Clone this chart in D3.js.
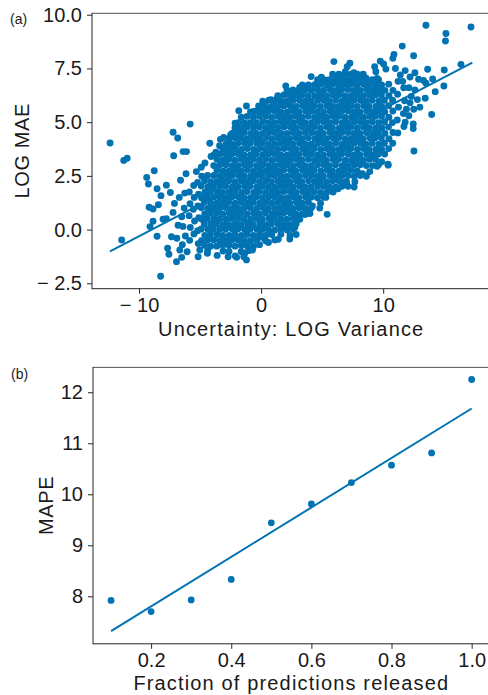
<!DOCTYPE html>
<html><head><meta charset="utf-8">
<script src="https://cdn.jsdelivr.net/npm/d3@7"></script>
<style>
body{margin:0;background:#fff}
svg{display:block}
text{font-family:"Liberation Sans",Arial,Helvetica,sans-serif;fill:#1a1a1a}
</style>
</head><body>
<svg id="chart" width="488" height="695"></svg>
<script>
// ---------- Panel (a) data: Uncertainty (LOG Variance) vs LOG MAE ----------
// outlying / sparse points
const scatterEdge = [
[-12.37,4.03],[-11.25,3.22],[-10.97,3.32],[-11.42,-0.48],[-9.37,2.43],[-8.75,2.74],[-9.23,2.12],[-8.52,1.9],[-8.2,1.58],[-7.76,2.07],[-7.43,1.73],[-9.17,1.04],[-8.85,0.96],[-8.41,1.16],[-8.85,0.39],[-9.1,0.14],[-8.03,0.48],[-7.76,0.51],[-8.52,-0.31],[-7.34,-0.33],[-8.23,-2.17],[-7.66,-0.87],[-7.55,-1.15],[-6.93,-1.49],[-6.5,-1.29],[-6.66,-0.95],[-7.1,1.22],[-7.21,0.8],[-7.21,4.53],[-6.83,4.26],[-7.16,3.44],[-6.39,3.63],[-6.11,3.63],[-5.81,4.91],[-4.2,4.02],[-3.33,4.2],[-3.06,4.29],[-1.83,5.53],[-1.2,5.75],[-2.13,4.95],[-2.04,4.71],
[-6.8,0.2],[-6.5,0.6],[-6.3,1.0],[-6.7,1.5],[-6.2,-0.3],[-6.4,0.15],[-6.9,-0.4],[-6.25,1.7],[-6.6,2.3],[-6.15,2.6],[-6.45,-0.7],
[-5.85,-0.5],[-5.8,0.1],[-5.9,0.65],[-5.82,1.2],[-5.88,1.75],[-5.5,-0.2],[-5.45,0.4],[-5.55,0.95],[-5.48,1.5],[-5.52,2.05],[-5.15,-0.65],[-5.2,-0.05],[-5.1,0.55],[-5.18,1.1],[-5.12,1.65],[-5.2,2.2],
[11.2,4.5],[11.15,5.1],[11.25,5.7],[11.18,6.3],[11.22,6.9],[11.7,4.8],[11.65,5.4],[11.75,6.0],[11.68,6.6],
[-4.6,3.1],[-4.1,3.4],[-3.7,3.6],[-3.4,3.9],[-2.8,4.0],[-2.5,4.4],[-4.9,2.9],[-5.3,2.7],
[-0.6,5.5],[-0.2,5.75],[0.3,5.9],[0.8,6.05],[1.3,6.1],[1.6,6.0],[2.4,6.3],[2.02,6.68],[3.16,6.62],[3.6,6.55],[4.1,7.12],[4.94,7.09],[4.6,6.85],[5.96,7.82],[6.33,7.12],[5.4,6.95],[7.27,7.74],[7.05,7.58],[6.9,7.35],[7.6,7.3],[8.2,7.2],[8.6,7.05],[9.3,7.58],[9.4,7.35],[9.5,7.04],[9.76,7.84],[10.03,7.71],[10.22,7.47],[10.88,8.15],[10.79,7.97],[11.56,8.54],[12.49,8.09],[13.5,9.51],[15.14,9.13],[15.1,8.78],[17.19,9.43],[13.64,7.46],[15.0,7.43],[16.37,7.69],[14.05,7.01],[13.3,6.94],[13.5,6.81],[14.97,6.68],[14.26,6.42],[13.44,6.11],[13.97,5.36],[12.46,4.92],[12.46,4.7],[12.52,3.66],[10.39,3.04],[9.87,3.16],[10.41,3.0],
[11.0,7.5],[11.4,7.2],[11.8,7.4],[12.2,7.1],[12.6,7.3],[12.9,7.0],[12.1,6.6],[12.6,6.5],[11.6,6.9],[12.3,6.2],[12.8,6.05],[11.9,5.6],[12.2,5.9],[13.0,5.7],[12.1,5.3],[12.5,5.6],[11.8,5.0],
[2.35,-0.44],[3.17,0.48],[2.76,0.1],[3.6,0.7],[4.2,1.1],[4.0,0.75],[4.8,1.0],[5.41,0.71],[5.3,1.5],[5.9,1.75],[6.3,1.9],[5.5,2.0],[7.68,2.23],[7.0,2.23],[8.3,2.6],[8.9,2.7],[9.5,2.95],[0.03,-0.36],[-1.42,-1.26],[-1.34,-1.1],[-2.7,-1.26],[-2.0,-1.29],[-1.2,-1.41],[-5.16,-1.26],[-5.02,-0.95],[-6.06,-1.03],[0.6,-0.6],[1.4,-0.45],[-0.7,-0.95],[-3.6,-1.2],[-4.4,-1.1],[-0.13,-0.7],[1.62,-0.22],[-1.02,-0.98],
[-2.63,-1.02],[-2.12,-1.23],[-1.63,-1.02],[-3.12,-1.0],[-4.38,-0.98],[-0.62,-0.77],[0.37,-0.52],[1.12,-0.48],
[2.12,-0.02],[2.37,-0.27],[2.62,0.02],[2.87,-0.23],[3.12,0.52],[3.37,0.73],[3.88,0.77],[4.12,1.02],[4.87,1.23],[5.12,1.52],[5.37,1.73],[5.87,1.77],[6.12,1.98],[6.62,2.02],[7.12,2.02],[7.62,1.98],[8.12,2.52],[8.62,2.48],[9.12,2.98],[9.62,3.02]
];
// dense central cloud
const scatterCore = [
[-4.88,-0.52],[-4.9,0.03],[-4.86,0.48],[-4.89,1.02],[-4.87,1.47],[-4.9,2.03],[-4.86,2.48],[-4.63,-0.73],[-4.61,-0.27],[-4.65,0.26],[-4.62,0.73],[-4.64,1.27],[-4.6,1.74],[-4.63,2.27],[-4.38,-0.48],[-4.36,0.02],[-4.4,0.52],[-4.37,0.98],[-4.39,1.52],[-4.36,1.98],[-4.38,2.52],[-4.13,-0.77],[-4.15,-0.23],[-4.11,0.27],[-4.14,0.77],[-4.12,1.23],[-4.15,1.77],[-4.13,2.23],
[-3.88,-0.48],[-3.9,0.02],[-3.86,0.52],[-3.89,0.98],[-3.87,1.52],[-3.9,1.98],[-3.86,2.52],[-3.88,2.98],[-3.63,-0.77],[-3.61,-0.23],[-3.65,0.27],[-3.62,0.77],[-3.64,1.23],[-3.6,1.77],[-3.63,2.23],[-3.62,2.77],[-3.38,-0.52],[-3.36,0.03],[-3.4,0.48],[-3.37,1.02],[-3.39,1.48],[-3.36,2.02],[-3.38,2.48],[-3.37,3.02],[-3.13,-0.73],[-3.15,-0.27],[-3.11,0.23],[-3.14,0.73],[-3.12,1.27],[-3.15,1.73],[-3.13,2.27],[-3.12,2.73],
[-2.88,-0.52],[-2.9,0.02],[-2.86,0.48],[-2.89,1.03],[-2.87,1.48],[-2.9,2.02],[-2.86,2.48],[-2.88,3.02],[-2.87,3.48],[-2.63,-0.73],[-2.61,-0.27],[-2.65,0.23],[-2.62,0.77],[-2.64,1.27],[-2.6,1.73],[-2.63,2.27],[-2.62,2.73],[-2.64,3.27],[-2.38,-0.48],[-2.36,0.03],[-2.4,0.52],[-2.37,0.98],[-2.39,1.52],[-2.36,1.98],[-2.38,2.52],[-2.37,2.98],[-2.39,3.52],[-2.13,-0.77],[-2.15,-0.23],[-2.11,0.27],[-2.14,0.73],[-2.12,1.23],[-2.15,1.77],[-2.13,2.23],[-2.12,2.77],[-2.14,3.23],[-2.12,3.77],
[-1.88,-0.48],[-1.9,0.03],[-1.86,0.52],[-1.89,0.98],[-1.87,1.52],[-1.9,1.98],[-1.86,2.52],[-1.88,2.98],[-1.87,3.52],[-1.89,4.02],[-1.63,-0.73],[-1.61,-0.27],[-1.65,0.23],[-1.62,0.77],[-1.64,1.27],[-1.6,1.73],[-1.63,2.27],[-1.62,2.73],[-1.64,3.27],[-1.61,3.73],[-1.63,4.27],[-1.38,-0.52],[-1.36,0.02],[-1.4,0.48],[-1.37,1.02],[-1.39,1.48],[-1.36,2.02],[-1.38,2.48],[-1.37,3.02],[-1.39,3.48],[-1.36,4.02],[-1.13,-0.77],[-1.15,-0.23],[-1.11,0.27],[-1.14,0.73],[-1.12,1.23],[-1.15,1.77],[-1.13,2.23],[-1.12,2.77],[-1.14,3.23],[-1.12,3.77],[-1.14,4.23],
[-0.88,-0.52],[-0.9,0.02],[-0.86,0.48],[-0.89,1.03],[-0.87,1.48],[-0.9,2.02],[-0.86,2.48],[-0.88,3.02],[-0.87,3.48],[-0.89,4.02],[-0.86,4.48],[-0.63,-0.27],[-0.65,0.23],[-0.62,0.77],[-0.64,1.27],[-0.6,1.73],[-0.63,2.27],[-0.62,2.73],[-0.64,3.27],[-0.61,3.73],[-0.63,4.27],[-0.62,4.73],[-0.38,-0.48],[-0.36,0.03],[-0.4,0.52],[-0.37,0.98],[-0.39,1.52],[-0.36,1.98],[-0.38,2.52],[-0.37,2.98],[-0.39,3.52],[-0.36,4.02],[-0.38,4.48],[-0.13,-0.23],[-0.11,0.27],[-0.14,0.73],[-0.12,1.23],[-0.15,1.77],[-0.13,2.23],[-0.12,2.77],[-0.14,3.23],[-0.12,3.77],[-0.14,4.23],[-0.13,4.77],
[0.12,0.02],[0.1,0.48],[0.14,1.03],[0.11,1.48],[0.13,2.02],[0.1,2.48],[0.14,3.02],[0.12,3.48],[0.13,4.02],[0.11,4.48],[0.14,5.02],[0.37,-0.27],[0.39,0.23],[0.35,0.77],[0.38,1.27],[0.36,1.73],[0.4,2.27],[0.37,2.73],[0.38,3.27],[0.36,3.73],[0.39,4.27],[0.37,4.73],[0.38,5.27],[0.62,-0.02],[0.64,0.52],[0.6,0.98],[0.63,1.52],[0.61,1.98],[0.64,2.52],[0.62,2.98],[0.63,3.52],[0.61,3.98],[0.64,4.52],[0.62,4.98],[0.87,-0.23],[0.85,0.27],[0.89,0.73],[0.86,1.23],[0.88,1.77],[0.85,2.23],[0.87,2.77],[0.88,3.23],[0.86,3.77],[0.88,4.23],[0.86,4.77],[0.87,5.23],
[1.12,-0.02],[1.1,0.52],[1.14,0.98],[1.11,1.52],[1.13,1.98],[1.1,2.52],[1.14,2.98],[1.12,3.52],[1.13,3.98],[1.11,4.52],[1.14,4.98],[1.12,5.52],[1.37,0.27],[1.39,0.73],[1.35,1.27],[1.38,1.73],[1.36,2.27],[1.4,2.73],[1.37,3.27],[1.38,3.73],[1.36,4.27],[1.39,4.73],[1.37,5.27],[1.38,5.73],[1.62,0.02],[1.64,0.48],[1.6,1.02],[1.63,1.48],[1.61,2.02],[1.64,2.48],[1.62,3.02],[1.63,3.48],[1.61,4.02],[1.64,4.48],[1.62,5.02],[1.63,5.48],[1.87,0.23],[1.85,0.77],[1.89,1.23],[1.86,1.77],[1.88,2.23],[1.85,2.77],[1.87,3.23],[1.88,3.77],[1.86,4.23],[1.88,4.77],[1.86,5.23],[1.87,5.77],
[2.12,0.48],[2.1,1.02],[2.14,1.48],[2.11,2.02],[2.13,2.48],[2.1,3.02],[2.14,3.48],[2.12,4.02],[2.13,4.48],[2.11,5.02],[2.14,5.48],[2.37,0.23],[2.39,0.77],[2.35,1.23],[2.38,1.77],[2.36,2.23],[2.4,2.77],[2.37,3.23],[2.38,3.77],[2.36,4.23],[2.39,4.77],[2.37,5.23],[2.38,5.77],[2.62,0.52],[2.64,0.98],[2.6,1.52],[2.63,1.98],[2.61,2.52],[2.64,2.98],[2.62,3.52],[2.63,3.98],[2.61,4.52],[2.64,4.98],[2.62,5.52],[2.87,0.27],[2.85,0.73],[2.89,1.27],[2.86,1.73],[2.88,2.27],[2.85,2.73],[2.87,3.27],[2.88,3.73],[2.86,4.27],[2.88,4.73],[2.86,5.27],[2.87,5.73],
[3.12,1.02],[3.1,1.48],[3.14,2.02],[3.11,2.48],[3.13,3.02],[3.1,3.48],[3.14,4.02],[3.12,4.48],[3.13,5.02],[3.11,5.48],[3.14,6.02],[3.37,1.23],[3.39,1.77],[3.35,2.23],[3.38,2.77],[3.36,3.23],[3.4,3.77],[3.37,4.23],[3.38,4.77],[3.36,5.23],[3.39,5.77],[3.62,0.98],[3.64,1.52],[3.6,1.98],[3.63,2.52],[3.61,2.98],[3.64,3.52],[3.62,3.98],[3.63,4.52],[3.61,4.98],[3.64,5.52],[3.62,5.98],[3.87,1.27],[3.85,1.73],[3.89,2.27],[3.86,2.73],[3.88,3.27],[3.85,3.73],[3.87,4.27],[3.88,4.73],[3.86,5.27],[3.88,5.73],[3.86,6.23],
[4.12,1.52],[4.1,1.98],[4.14,2.52],[4.11,2.98],[4.13,3.52],[4.1,3.98],[4.14,4.52],[4.12,4.98],[4.13,5.52],[4.11,5.98],[4.37,1.77],[4.39,2.23],[4.35,2.77],[4.38,3.23],[4.36,3.77],[4.4,4.23],[4.37,4.77],[4.38,5.23],[4.36,5.77],[4.39,6.23],[4.62,1.48],[4.64,2.02],[4.6,2.48],[4.63,3.02],[4.61,3.48],[4.64,4.02],[4.62,4.48],[4.63,5.02],[4.61,5.48],[4.64,6.02],[4.87,1.73],[4.85,2.27],[4.89,2.73],[4.86,3.27],[4.88,3.73],[4.85,4.27],[4.87,4.73],[4.88,5.27],[4.86,5.73],[4.88,6.27],
[5.12,2.02],[5.1,2.48],[5.14,3.02],[5.11,3.48],[5.13,4.02],[5.1,4.48],[5.14,5.02],[5.12,5.48],[5.13,6.02],[5.11,6.48],[5.37,2.23],[5.39,2.77],[5.35,3.23],[5.38,3.77],[5.36,4.23],[5.4,4.77],[5.37,5.23],[5.38,5.77],[5.36,6.23],[5.62,1.98],[5.64,2.52],[5.6,2.98],[5.63,3.52],[5.61,3.98],[5.64,4.52],[5.62,4.98],[5.63,5.52],[5.61,5.98],[5.64,6.52],[5.87,2.27],[5.85,2.73],[5.89,3.27],[5.86,3.73],[5.88,4.27],[5.85,4.73],[5.87,5.27],[5.88,5.73],[5.86,6.27],
[6.12,2.48],[6.1,3.02],[6.14,3.48],[6.11,4.02],[6.13,4.48],[6.1,5.02],[6.14,5.48],[6.12,6.02],[6.13,6.48],[6.37,2.27],[6.39,2.73],[6.35,3.27],[6.38,3.73],[6.36,4.27],[6.4,4.73],[6.37,5.27],[6.38,5.73],[6.36,6.27],[6.39,6.73],[6.62,2.52],[6.64,2.98],[6.6,3.52],[6.63,3.98],[6.61,4.52],[6.64,4.98],[6.62,5.52],[6.63,5.98],[6.61,6.52],[6.87,2.23],[6.85,2.77],[6.89,3.23],[6.86,3.77],[6.88,4.23],[6.85,4.77],[6.87,5.23],[6.88,5.77],[6.86,6.23],[6.88,6.77],
[7.12,2.52],[7.1,2.98],[7.14,3.52],[7.11,3.98],[7.13,4.52],[7.1,4.98],[7.14,5.52],[7.12,5.98],[7.13,6.52],[7.37,2.77],[7.39,3.23],[7.35,3.77],[7.38,4.23],[7.36,4.77],[7.4,5.23],[7.37,5.77],[7.38,6.23],[7.36,6.77],[7.62,2.48],[7.64,3.02],[7.6,3.48],[7.63,4.02],[7.61,4.48],[7.64,5.02],[7.62,5.48],[7.63,6.02],[7.61,6.48],[7.87,2.73],[7.85,3.27],[7.89,3.73],[7.86,4.27],[7.88,4.73],[7.85,5.27],[7.87,5.73],[7.88,6.27],[7.86,6.73],
[8.12,3.02],[8.1,3.48],[8.14,4.02],[8.11,4.48],[8.13,5.02],[8.1,5.48],[8.14,6.02],[8.12,6.48],[8.37,3.23],[8.39,3.77],[8.35,4.23],[8.38,4.77],[8.36,5.23],[8.4,5.77],[8.37,6.23],[8.38,6.77],[8.62,2.98],[8.64,3.52],[8.6,3.98],[8.63,4.52],[8.61,4.98],[8.64,5.52],[8.62,5.98],[8.63,6.52],[8.87,3.27],[8.85,3.73],[8.89,4.27],[8.86,4.73],[8.88,5.27],[8.85,5.73],[8.87,6.27],[8.86,6.73],
[9.12,3.48],[9.1,4.02],[9.14,4.48],[9.11,5.02],[9.13,5.48],[9.1,6.02],[9.14,6.48],[9.37,3.27],[9.39,3.73],[9.35,4.27],[9.38,4.73],[9.36,5.27],[9.4,5.73],[9.37,6.27],[9.62,3.52],[9.64,3.98],[9.6,4.52],[9.63,4.98],[9.61,5.52],[9.64,5.98],[9.62,6.52],[9.87,3.73],[9.85,4.27],[9.89,4.73],[9.86,5.27],[9.88,5.73],[9.85,6.27],
[10.12,3.52],[10.1,4.02],[10.14,4.48],[10.11,5.02],[10.13,5.48],[10.1,6.02],[10.14,6.48],[10.45,3.77],[10.47,4.23],[10.43,4.77],[10.46,5.23],[10.44,5.77],[10.47,6.23],[10.45,6.77],[10.78,4.02],[10.8,4.52],[10.76,4.98],[10.79,5.52],[10.77,6.02],[10.8,6.48]
];
// upper fringe of the cloud
const scatterTop = [
[-3.87,3.48],[-3.62,3.27],[-3.38,3.52],[-3.13,3.23],[-3.12,3.73],
[-2.88,3.98],[-2.63,3.73],[-2.62,4.23],[-2.38,3.98],[-2.37,4.48],[-2.13,4.27],[-2.14,4.73],
[-1.88,4.48],[-1.87,4.98],[-1.63,4.73],[-1.62,5.23],[-1.38,4.52],[-1.37,4.98],[-1.13,4.77],[-1.14,5.27],
[-0.88,4.98],[-0.87,5.48],[-0.63,5.23],[-0.38,4.98],[-0.37,5.52],[-0.13,5.27],[-0.12,5.73],
[0.12,5.48],[0.13,5.98],[0.37,5.73],[0.62,5.52],[0.63,6.02],[0.87,5.73],
[1.12,5.98],[1.37,6.23],[1.62,5.98],[1.87,6.27],
[2.12,5.98],[2.13,6.48],[2.37,6.23],[2.62,6.02],[2.87,6.27],[2.61,6.5],
[3.12,6.48],[3.37,6.27],[3.38,6.73],[3.62,6.52],[3.87,6.73],
[4.12,6.48],[4.37,6.73],[4.62,6.52],[4.63,6.98],[4.87,6.77],
[5.12,6.98],[5.37,6.73],[5.62,6.98],[5.87,6.77],[5.86,7.23],
[6.12,6.98],[6.37,7.23],[6.62,6.98],[6.87,7.23],
[7.12,6.98],[7.37,7.23],[7.62,6.98],[7.87,7.23],
[8.12,6.98],[8.37,7.23],[8.62,6.98],
[9.12,6.98],[9.37,6.73],[9.62,6.98],[9.87,6.73]
];
// fitted regression line endpoints
const fitA = [[-12.38,-1.01],[17.3,7.77]];
const xTicksA = [-10, 0, 10];
const yTicksA = [-2.5, 0, 2.5, 5, 7.5, 10];

// ---------- Panel (b) data: fraction released vs MAPE ----------
const fraction = [0.1, 0.2, 0.3, 0.4, 0.5, 0.6, 0.7, 0.8, 0.9, 1.0];
const mape = [7.92, 7.70, 7.93, 8.33, 9.44, 9.81, 10.23, 10.57, 10.81, 12.25];
const xTicksB = [0.2, 0.4, 0.6, 0.8, 1.0];
const yTicksB = [8, 9, 10, 11, 12];

const labelsA = {x: "Uncertainty: LOG Variance", y: "LOG MAE", tag: "(a)"};
const labelsB = {x: "Fraction of predictions released", y: "MAPE", tag: "(b)"};

const BLUE = "#0173b2";
const svg = d3.select("#chart");
const minus = v => v < 0 ? "\u2212 " : "";

function panel(cfg) {
  const g = svg.append("g");
  const {x, y} = cfg;
  const [x0, x1] = x.range(), [y0, y1] = y.range(); // y0 bottom, y1 top
  g.append("defs").append("clipPath").attr("id", cfg.id)
    .append("rect").attr("x", x0).attr("y", y1).attr("width", x1 - x0).attr("height", y0 - y1);

  const plot = g.append("g").attr("clip-path", `url(#${cfg.id})`);
  cfg.draw(plot);

  // spines
  g.append("line").attr("x1", x0).attr("x2", x1).attr("y1", y1 + 0.5).attr("y2", y1 + 0.5)
    .attr("stroke", "#555").attr("stroke-width", 1);
  g.append("line").attr("x1", x0).attr("x2", x1).attr("y1", y0).attr("y2", y0)
    .attr("stroke", "#262626").attr("stroke-width", 1);
  g.append("line").attr("x1", x0).attr("x2", x0).attr("y1", y1).attr("y2", y0 + 0.5)
    .attr("stroke", "#262626").attr("stroke-width", 1);

  const ax = g.append("g").attr("transform", `translate(0,${y0})`)
    .call(d3.axisBottom(x).tickValues(cfg.xTicks).tickFormat(cfg.xFmt).tickSize(5).tickPadding(4));
  const ay = g.append("g").attr("transform", `translate(${x0},0)`)
    .call(d3.axisLeft(y).tickValues(cfg.yTicks).tickFormat(cfg.yFmt).tickSize(5).tickPadding(5));
  [ax, ay].forEach(a => {
    a.select(".domain").remove();
    a.selectAll(".tick line").attr("stroke", "#262626").attr("stroke-width", 1);
    a.selectAll(".tick text").attr("font-size", 20).attr("font-family", "Liberation Sans, Arial, sans-serif").attr("fill", "#1a1a1a");
  });

  g.append("text").attr("x", (x0 + x1) / 2).attr("y", cfg.xLabelY).attr("text-anchor", "middle")
    .attr("font-size", 20).style("letter-spacing", "1.15px").text(cfg.labels.x);
  g.append("text").attr("transform", `translate(${cfg.yLabelX},${(y0 + y1) / 2}) rotate(-90)`)
    .attr("text-anchor", "middle").attr("font-size", 20).style("letter-spacing", "0.6px").text(cfg.labels.y);
  g.append("text").attr("x", cfg.tagX).attr("y", cfg.tagY).attr("font-size", 14).text(cfg.labels.tag);
}

// Panel (a)
const xA = d3.scaleLinear().domain([-13.85, 18.78]).range([92, 490.4]);
const yA = d3.scaleLinear().domain([-2.75, 10.09]).range([288.7, 12.8]);
const scatterA = scatterEdge.concat(scatterCore, scatterTop);
panel({
  id: "clipA", x: xA, y: yA, xTicks: xTicksA, yTicks: yTicksA,
  xFmt: d => minus(d) + Math.abs(d), yFmt: d => minus(d) + Math.abs(d).toFixed(1),
  labels: labelsA, xLabelY: 336, yLabelX: 28.5, tagX: 10, tagY: 24,
  draw: p => {
    p.selectAll("circle").data(scatterA).join("circle")
      .attr("cx", d => xA(d[0])).attr("cy", d => yA(d[1])).attr("r", 3.45).attr("fill", BLUE);
    p.append("path").datum(fitA)
      .attr("d", d3.line().x(d => xA(d[0])).y(d => yA(d[1])))
      .attr("fill", "none").attr("stroke", BLUE).attr("stroke-width", 2);
  }
});

// Panel (b)
const xB = d3.scaleLinear().domain([0.055, 1.045]).range([93, 489.7]);
const yB = d3.scaleLinear().domain([7.069, 12.497]).range([643.8, 366.9]);
// least squares fit of MAPE on fraction
const mx = d3.mean(fraction), my = d3.mean(mape);
const slope = d3.sum(fraction, (f, i) => (f - mx) * (mape[i] - my)) / d3.sum(fraction, f => (f - mx) ** 2);
const fitB = [fraction[0], fraction[fraction.length - 1]].map(f => [f, my + slope * (f - mx)]);
panel({
  id: "clipB", x: xB, y: yB, xTicks: xTicksB, yTicks: yTicksB,
  xFmt: d3.format(".1f"), yFmt: d3.format("d"),
  labels: labelsB, xLabelY: 690, yLabelX: 52.5, tagX: 11, tagY: 378.5,
  draw: p => {
    p.append("path").datum(fitB)
      .attr("d", d3.line().x(d => xB(d[0])).y(d => yB(d[1])))
      .attr("fill", "none").attr("stroke", BLUE).attr("stroke-width", 2);
    p.selectAll("circle").data(fraction).join("circle")
      .attr("cx", d => xB(d)).attr("cy", (d, i) => yB(mape[i])).attr("r", 3.4).attr("fill", BLUE);
  }
});
</script>
</body></html>
